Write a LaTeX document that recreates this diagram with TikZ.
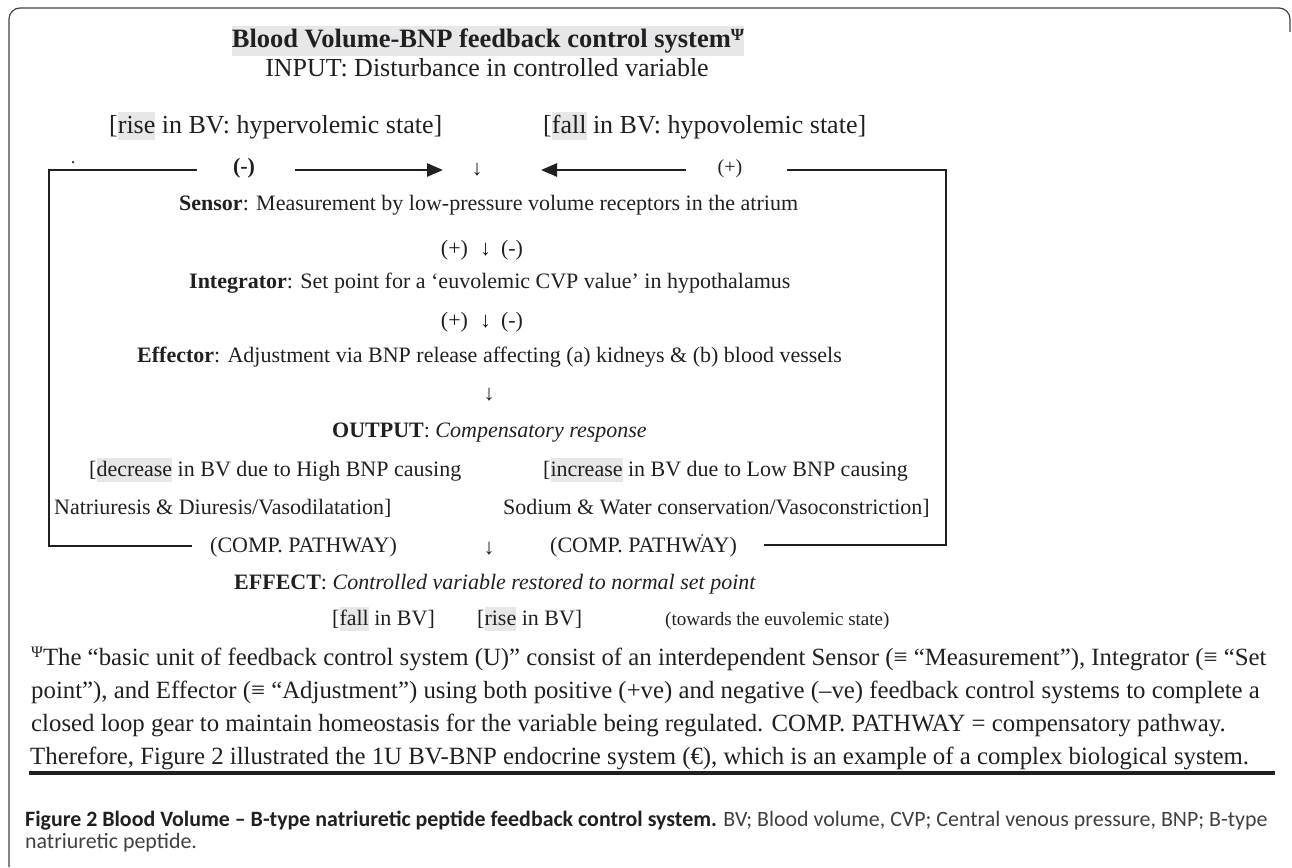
\documentclass[tikz,border=0pt]{standalone}
\usepackage{fontspec}
\setmainfont{Liberation Serif}
\newfontfamily\capfont{Carlito}
\usetikzlibrary{arrows.meta}
\definecolor{hl}{HTML}{E6E7E8}
\definecolor{ink}{HTML}{231F20}
\definecolor{capgray}{HTML}{404040}
\newcommand{\hlw}[1]{{\setlength{\fboxsep}{0pt}\colorbox{hl}{\rule[-0.28em]{0pt}{1.1em}#1}}}
\newcommand{\hlt}[1]{{\setlength{\fboxsep}{0pt}\colorbox{hl}{\rule[-0.3em]{0pt}{1.13em}#1}}}
\newcommand{\psym}[1]{\raisebox{0.3em}{\fontsize{#1}{#1}\selectfont Ψ}}
\begin{document}
\begin{tikzpicture}[x=1pt,y=-1pt,
  txt/.style={inner sep=0pt, anchor=base, font=\fontsize{22}{24}\selectfont, text=ink},
  txtw/.style={txt, anchor=base west},
  big/.style={font=\fontsize{26}{28}\selectfont},
  foot/.style={inner sep=0pt, anchor=base west, font=\fontsize{24.8}{26}\selectfont, text=ink},
  capt/.style={inner sep=0pt, anchor=base west, font=\capfont\fontsize{21.9}{23}\selectfont, text=capgray},
  brk/.style={line width=2pt, draw=ink},
  arr/.style={line width=2.6pt, draw=ink, -{Triangle[length=16pt,width=13pt]}},
  frame/.style={line width=1.2pt, draw=ink!85, rounded corners=11pt},
  dotm/.style={fill=ink, draw=none, circle, inner sep=0pt, minimum size=2.5pt}]
\useasboundingbox (0,0) rectangle (1292,867);
\draw[frame] (1290,32) |- (9,8) -- (9,867);

% title and input
\node[txt, font=\bfseries\fontsize{26.5}{28}\selectfont] (title) at (488,48) {\hlt{Blood Volume-BNP feedback control system\psym{17}}};
\node[txt, big] (input) at (487,77) {INPUT: Disturbance in controlled variable};
\node[txtw, big] (rise) at (109,133) {[\hlw{rise} in BV: hypervolemic state]};
\node[txtw, big] (fall) at (543,133) {[\hlw{fall} in BV: hypovolemic state]};

% top row
\node[txt, font=\bfseries\fontsize{22}{24}\selectfont] (minus) at (244,173) {(-)};
\node[txt] (d0) at (477,175) {↓};
\node[txt, font=\fontsize{20}{22}\selectfont] (plus) at (730,173) {(+)};
\node[dotm] (dot1) at (73,162) {};
\coordinate (ar1s) at (295,170);
\coordinate (ar1e) at (443,170);
\coordinate (ar2s) at (686,170);
\coordinate (ar2e) at (541,170);
\draw[arr] (ar1s) -- (ar1e);
\draw[arr] (ar2s) -- (ar2e);

% chain
\node[txtw] (sensor) at (179,210) {\textbf{Sensor}: Measurement by low-pressure volume receptors in the atrium};
\node[txt] (pm1) at (482,255) {(+)\hspace{0.55em}↓\hspace{0.45em}(-)};
\node[txtw] (integ) at (189,288) {\textbf{Integrator}: Set point for a ‘euvolemic CVP value’ in hypothalamus};
\node[txt] (pm2) at (482,327) {(+)\hspace{0.55em}↓\hspace{0.45em}(-)};
\node[txtw] (effector) at (137,362) {\textbf{Effector}: Adjustment via BNP release affecting (a) kidneys \& (b) blood vessels};
\node[txt] (d3) at (489,400) {↓};
\node[txtw] (output) at (332,437) {\textbf{OUTPUT}: \textit{Compensatory response}};
\node[txtw] (decr) at (89,476) {[\hlw{decrease} in BV due to High BNP causing};
\node[txtw] (incr) at (543,476) {[\hlw{increase} in BV due to Low BNP causing};
\node[txtw] (natri) at (54,514) {Natriuresis \& Diuresis/Vasodilatation]};
\node[txtw] (sodium) at (503,514) {Sodium \& Water conservation/Vasoconstriction]};
\node[txtw] (compl) at (210,552) {(COMP. PATHWAY)};
\node[txt] (d4) at (489,554) {↓};
\node[txtw] (compr) at (550,552) {(COMP. PATHWAY)};
\node[dotm, minimum size=2pt] (dot2) at (702,535) {};
\node[txtw] (effect) at (234,589) {\textbf{EFFECT}: \textit{Controlled variable restored to normal set point}};
\node[txtw] (fallbv) at (332,625) {[\hlw{fall} in BV]};
\node[txtw] (risebv) at (477,625) {[\hlw{rise} in BV]};
\node[txtw, font=\fontsize{19}{21}\selectfont] (toward) at (665,625) {(towards the euvolemic state)};

% brackets
\coordinate (lb1) at (197,170);
\coordinate (lb2) at (49,170);
\coordinate (lb3) at (49,546);
\coordinate (lb4) at (192,546);
\coordinate (rb1) at (787,170);
\coordinate (rb2) at (946,170);
\coordinate (rb3) at (946,545);
\coordinate (rb4) at (764,545);
\draw[brk] (lb1) -- (lb2) -- (lb3) -- (lb4);
\draw[brk] (rb1) -- (rb2) -- (rb3) -- (rb4);

% footnote
\node[foot] (f1) at (31,665) {\psym{16}The “basic unit of feedback control system (U)” consist of an interdependent Sensor (≡ “Measurement”), Integrator (≡ “Set};
\node[foot] (f2) at (31,698) {point”), and Effector (≡ “Adjustment”) using both positive (+ve) and negative (–ve) feedback control systems to complete a};
\node[foot] (f3) at (31,731) {closed loop gear to maintain homeostasis for the variable being regulated. COMP. PATHWAY = compensatory pathway.};
\node[foot] (f4) at (30,764) {Therefore, Figure 2 illustrated the 1U BV-BNP endocrine system (€), which is an example of a complex biological system.};
\coordinate (r1) at (29,773);
\coordinate (r2) at (1275,773);
\draw[line width=4pt, draw=ink] (r1) -- (r2);

% caption
\node[capt] (cap1) at (25,826) {\textcolor{ink}{\textbf{Figure 2 Blood Volume – B-type natriuretic peptide feedback control system.}} BV; Blood volume, CVP; Central venous pressure, BNP; B-type};
\node[capt] (cap2) at (25,848) {natriuretic peptide.};
\end{tikzpicture}
\end{document}
